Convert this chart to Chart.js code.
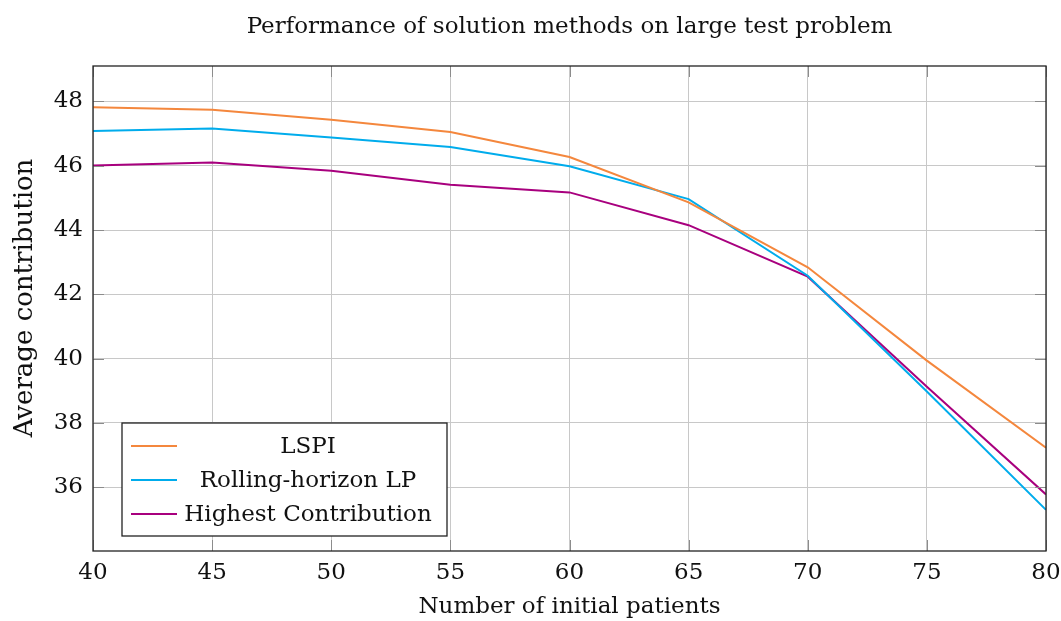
<!DOCTYPE html>
<html>
<head>
<meta charset="utf-8">
<script src="https://cdn.jsdelivr.net/npm/chart.js@4"></script>
<style>
  html, body { margin: 0; padding: 0; background: #fff; }
  #wrap { width: 1061px; height: 621px; }
</style>
</head>
<body>
<div id="wrap"><canvas id="perfChart"></canvas></div>
<script>
// data
const patients = [40, 45, 50, 55, 60, 65, 70, 75, 80];
const lspi = [47.82, 47.74, 47.43, 47.05, 46.27, 44.86, 42.84, 39.94, 37.23];
const rollingLP = [47.08, 47.16, 46.88, 46.58, 45.98, 44.96, 42.58, 38.98, 35.3];
const highestContrib = [46.01, 46.1, 45.84, 45.41, 45.17, 44.15, 42.55, 39.13, 35.78];
const yTicks = [36, 38, 40, 42, 44, 46, 48];

const titleText = 'Performance of solution methods on large test problem';
const yTitleText = 'Average contribution';

const FONT = "'DejaVu Serif', 'Liberation Serif', serif";
const FS = 23;

// titles, frame, inner tick marks and boxed legend (pgfplots look)
const framePlugin = {
  id: 'frame',
  afterDraw(chart) {
    const { ctx, chartArea: a, scales } = chart;
    ctx.save();
    // ticks inside the box
    ctx.strokeStyle = '#8c8c8c';
    ctx.lineWidth = 1;
    const tl = 11;
    patients.forEach(v => {
      if (v % 5) return;
      const x = Math.round(scales.x.getPixelForValue(v)) + 0.5;
      ctx.beginPath();
      ctx.moveTo(x, a.bottom); ctx.lineTo(x, a.bottom - tl);
      ctx.moveTo(x, a.top); ctx.lineTo(x, a.top + tl);
      ctx.stroke();
    });
    yTicks.forEach(v => {
      const y = Math.round(scales.y.getPixelForValue(v)) + 0.5;
      ctx.beginPath();
      ctx.moveTo(a.left, y); ctx.lineTo(a.left + tl, y);
      ctx.moveTo(a.right, y); ctx.lineTo(a.right - tl, y);
      ctx.stroke();
    });
    // frame
    ctx.strokeStyle = '#222';
    ctx.lineWidth = 1.3;
    ctx.strokeRect(a.left, a.top, a.right - a.left, a.bottom - a.top);

    // titles
    ctx.fillStyle = '#111';
    ctx.textAlign = 'center';
    ctx.textBaseline = 'middle';
    ctx.font = FS + 'px ' + FONT;
    ctx.fillText(titleText, (a.left + a.right) / 2, 27);
    ctx.save();
    ctx.translate(25, 298);
    ctx.rotate(-Math.PI / 2);
    ctx.font = '26px ' + FONT;
    ctx.fillText(yTitleText, 0, 0);
    ctx.restore();

    // legend
    const lx = a.left + 29, lw = 325, lh = 113;
    const ly = a.bottom - 15 - lh;
    ctx.fillStyle = '#fff';
    ctx.fillRect(lx, ly, lw, lh);
    ctx.strokeStyle = '#222';
    ctx.lineWidth = 1.3;
    ctx.strokeRect(lx, ly, lw, lh);
    ctx.font = FS + 'px ' + FONT;
    chart.data.datasets.forEach((ds, i) => {
      const ry = ly + 23 + i * 34;
      ctx.strokeStyle = ds.borderColor;
      ctx.lineWidth = 2;
      ctx.beginPath();
      ctx.moveTo(lx + 9, ry); ctx.lineTo(lx + 55, ry);
      ctx.stroke();
      ctx.fillStyle = '#111';
      ctx.fillText(ds.label, lx + 186, ry + 1);
    });
    ctx.restore();
  }
};

const ctx = document.getElementById('perfChart').getContext('2d');
const chart = new Chart(ctx, {
  type: 'line',
  data: {
    datasets: [
      {
        label: 'LSPI',
        data: patients.map((p, i) => ({ x: p, y: lspi[i] })),
        borderColor: '#f4873d',
      },
      {
        label: 'Rolling-horizon LP',
        data: patients.map((p, i) => ({ x: p, y: rollingLP[i] })),
        borderColor: '#00acec',
      },
      {
        label: 'Highest Contribution',
        data: patients.map((p, i) => ({ x: p, y: highestContrib[i] })),
        borderColor: '#a8007e',
      }
    ]
  },
  options: {
    responsive: true,
    maintainAspectRatio: false,
    animation: false,
    elements: {
      line: { borderWidth: 2, tension: 0 },
      point: { radius: 0, hoverRadius: 0 }
    },
    layout: { padding: { left: 0, right: 15, top: 66, bottom: 0 } },
    scales: {
      x: {
        type: 'linear',
        min: 40,
        max: 80,
        afterFit(scale) {
          scale.height = 70;
          scale.paddingLeft = 0;
          scale.paddingRight = 0;
        },
        ticks: {
          stepSize: 5,
          padding: 8,
          color: '#111',
          font: { family: FONT, size: FS }
        },
        grid: { color: '#c8c8c8', lineWidth: 1, drawTicks: false },
        border: { display: false },
        title: {
          display: true,
          text: 'Number of initial patients',
          color: '#111',
          font: { family: FONT, size: FS },
          padding: { top: 0, bottom: 0 }
        }
      },
      y: {
        type: 'linear',
        min: 34.02,
        max: 49.1,
        afterFit(scale) {
          scale.width = 93;
          scale.paddingTop = 0;
          scale.paddingBottom = 0;
        },
        afterBuildTicks(scale) { scale.ticks = yTicks.map(v => ({ value: v })); },
        ticks: {
          padding: 10,
          color: '#111',
          font: { family: FONT, size: FS }
        },
        grid: { color: '#c8c8c8', lineWidth: 1, drawTicks: false },
        border: { display: false }
      }
    },
    plugins: {
      legend: { display: false },
      tooltip: { enabled: false },
      title: { display: false }
    }
  },
  plugins: [framePlugin]
});
</script>
</body>
</html>
